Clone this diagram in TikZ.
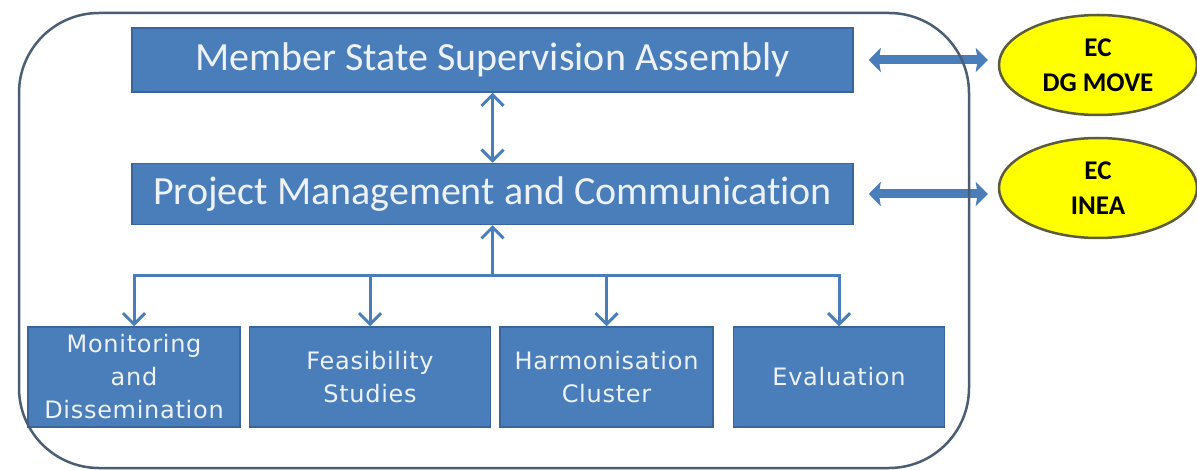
\documentclass[tikz,border=0pt]{standalone}
\usepackage{fontspec}
\setmainfont{Carlito}[Ligatures=NoCommon]
\newfontfamily\taskfont{DejaVu Sans}[LetterSpace=3]
\usepackage{tikz}
\usetikzlibrary{arrows.meta}
\usetikzlibrary{positioning}
\usetikzlibrary{shapes.geometric}
\definecolor{boxblue}{HTML}{4A7EBB}
\definecolor{boxline}{HTML}{3A659A}
\definecolor{boxtext}{HTML}{EEF1F6}
\definecolor{framegray}{HTML}{4B5D73}
\definecolor{ecyellow}{HTML}{FFFF00}
\definecolor{ecline}{HTML}{5A5C3C}

\begin{document}
\begin{tikzpicture}[x=1pt,y=-1pt,
    box/.style={rectangle,fill=boxblue,draw=boxline,line width=1.5pt,text=boxtext,
      font=\fontsize{40}{44}\selectfont,minimum width=721pt,inner sep=0pt},
    task/.style={rectangle,fill=boxblue,draw=boxline,line width=1.5pt,text=boxtext,
      font=\taskfont\fontsize{24}{33}\selectfont,align=center,minimum height=100pt,inner sep=0pt},
    ec/.style={ellipse,fill=ecyellow,draw=ecline,line width=2.5pt,align=center,
      font=\bfseries\fontsize{27}{35}\selectfont,minimum width=198pt,minimum height=100pt,inner sep=0pt},
    link/.style={draw=boxblue,line width=3pt,>={Straight Barb[length=11pt,width=22pt]}},
    wide/.style={draw=boxblue,line width=9pt,{Stealth[length=12pt,width=24pt,inset=2pt]}-{Stealth[length=12pt,width=24pt,inset=2pt]}},
    frame/.style={draw=framegray,line width=2.5pt,rounded corners=80pt}]
  \useasboundingbox (0,0) rectangle (1197,470);
  \node[box,minimum height=64pt] (msa) at (492.5,60) {Member State Supervision Assembly};
  \node[box,minimum height=61pt,below=70pt of msa] (pmc) {Project Management and Communication};
  \node[task,minimum width=212pt] (mon) at (134,377) {Monitoring\\and\\Dissemination};
  \node[task,minimum width=241pt,right=8pt of mon] (fea) {Feasibility\\Studies};
  \node[task,minimum width=213pt,right=8pt of fea] (har) {Harmonisation\\Cluster};
  \node[task,minimum width=211pt,right=19pt of har] (eva) {Evaluation};
  \node[ec] (dg) at (1098,65) {EC\\DG MOVE};
  \node[ec] (inea) at (1098,188) {EC\\INEA};
  \coordinate[below=50pt of pmc] (hub);
  \draw[link,<->] (msa) -- (pmc);
  \draw[link,->] (hub) -- (pmc);
  \draw[link,->] (hub) -| (mon);
  \draw[link,->] (hub) -| (fea);
  \draw[link,->] (hub) -| (har);
  \draw[link,->] (hub) -| (eva);
  \draw[wide,shorten <=15pt,shorten >=10pt] (msa.east) -- (msa.east -| dg.west);
  \draw[wide,shorten <=15pt,shorten >=10pt] (pmc.east) -- (pmc.east -| inea.west);
  \draw[frame] (19,13) rectangle (969,468);
\end{tikzpicture}
\end{document}
